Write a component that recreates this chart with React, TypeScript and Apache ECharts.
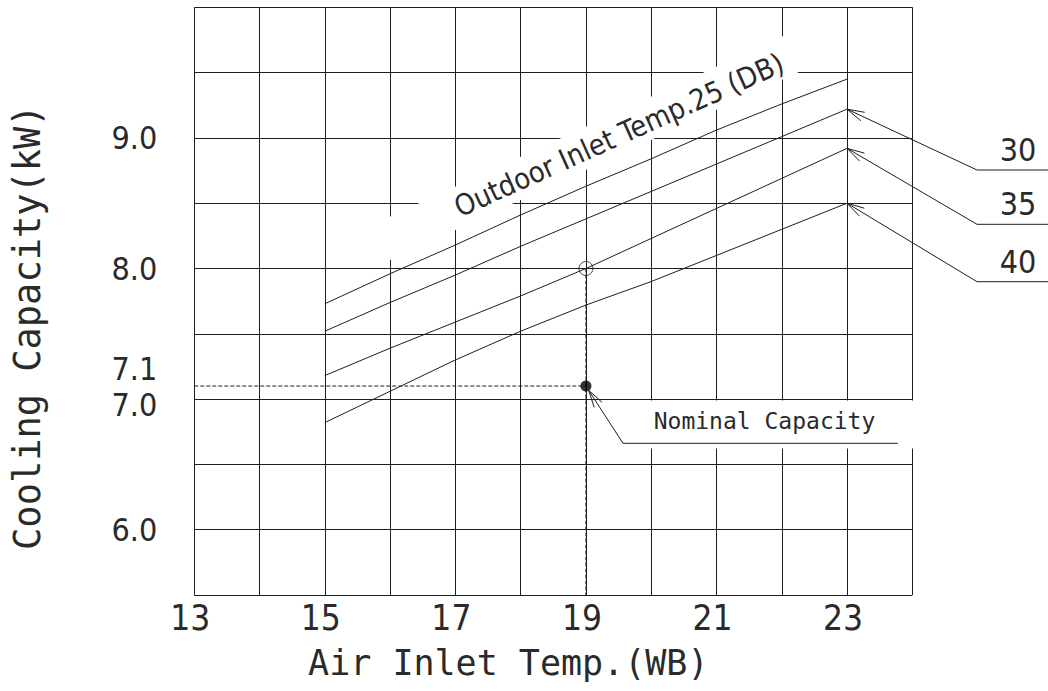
import React, { useEffect, useRef } from "react";
import * as echarts from "echarts";

// ---- data ----
const inletTempWB = [15, 16, 17, 18, 19, 20, 21, 22, 23];
const capacityOutdoor25 = [7.73, 7.96, 8.18, 8.41, 8.63, 8.84, 9.06, 9.26, 9.45];
const capacityOutdoor30 = [7.52, 7.74, 7.95, 8.17, 8.38, 8.59, 8.8, 9.01, 9.22];
const capacityOutdoor35 = [7.18, 7.39, 7.59, 7.79, 8.0, 8.23, 8.46, 8.69, 8.92];
const capacityOutdoor40 = [6.82, 7.06, 7.3, 7.52, 7.72, 7.9, 8.1, 8.3, 8.5];
const outdoorLabels = ["30", "35", "40"];
const ratedPoint = [19, 8.0];
const nominalPoint = [19, 7.1];
const xTickValues = [13, 15, 17, 19, 21, 23];
const yTickValues = [6.0, 7.0, 7.1, 8.0, 9.0];
const xRange = [13, 24];
const yRange = [5.5, 10];

const INK = "#1e1e1e";
const TXT = "#2a2a2a";
const NARROW =
  "'Liberation Sans Narrow', 'DejaVu Sans Condensed', 'Arial Narrow', 'DejaVu Sans', sans-serif";
const MONO = "'DejaVu Sans Mono', 'Liberation Mono', monospace";
const DEG = Math.PI / 180;

function arrowHead(tip: number[], toward: number[], len = 18, spread = 15 * DEG) {
  const a = Math.atan2(toward[1] - tip[1], toward[0] - tip[0]);
  return {
    type: "polyline",
    z: 10,
    silent: true,
    shape: {
      points: [
        [tip[0] + len * Math.cos(a + spread), tip[1] + len * Math.sin(a + spread)],
        [tip[0], tip[1]],
        [tip[0] + len * Math.cos(a - spread), tip[1] + len * Math.sin(a - spread)],
      ],
    },
    style: { stroke: INK, fill: null, lineWidth: 1 },
  };
}

function seg(p1: number[], p2: number[]) {
  return {
    type: "line",
    z: 10,
    silent: true,
    shape: { x1: p1[0], y1: p1[1], x2: p2[0], y2: p2[1] },
    style: { stroke: INK, lineWidth: 1 },
  };
}

export default function App() {
  const ref = useRef<HTMLDivElement>(null);

  useEffect(() => {
    if (!ref.current) return;
    const chart = echarts.init(ref.current, null, { renderer: "svg" });

    const curves = [capacityOutdoor25, capacityOutdoor30, capacityOutdoor35, capacityOutdoor40].map(
      (arr, k) => ({
        type: "line",
        name: ["25", "30", "35", "40"][k],
        data: inletTempWB.map((x, i) => [x, arr[i]]),
        symbol: "none",
        silent: true,
        z: 3,
        lineStyle: { color: INK, width: 1 },
      })
    );

    const dashed = { color: INK, width: 1, type: [4, 2] };
    const guides = [
      [[xRange[0], ratedPoint[1]], ratedPoint],
      [[xRange[0], nominalPoint[1]], nominalPoint],
      [ratedPoint, [ratedPoint[0], yRange[0]]],
    ].map((d) => ({
      type: "line",
      data: d,
      symbol: "none",
      silent: true,
      z: 3,
      lineStyle: dashed,
    }));

    const yLabelFont = { fontFamily: NARROW, fontSize: 32, color: TXT };

    const option: any = {
      animation: false,
      backgroundColor: "#ffffff",
      grid: {
        left: 194.3,
        right: 135.7,
        top: 7.3,
        bottom: 96,
        containLabel: false,
        outerBoundsMode: "none",
      },
      xAxis: {
        type: "value",
        min: xRange[0],
        max: xRange[1],
        interval: 1,
        z: 0,
        axisLine: { show: false },
        axisTick: { show: false },
        splitLine: { show: true, lineStyle: { color: INK, width: 1 } },
        axisLabel: {
          customValues: xTickValues,
          formatter: (v: number) => String(v),
          fontFamily: NARROW,
          fontSize: 35,
          color: TXT,
          margin: 5,
          padding: [0, 8, 0, 0],
        },
        name: "Air Inlet Temp.(WB)",
        nameLocation: "middle",
        nameGap: 68,
        nameTextStyle: {
          fontFamily: MONO,
          fontSize: 35,
          color: TXT,
          verticalAlign: "middle",
          padding: [0, 90, 0, 0],
        },
      },
      yAxis: {
        type: "value",
        min: yRange[0],
        max: yRange[1],
        interval: 0.5,
        z: 0,
        axisLine: { show: false },
        axisTick: { show: false },
        splitLine: { show: true, lineStyle: { color: INK, width: 1 } },
        axisLabel: {
          customValues: yTickValues,
          formatter: (v: number) => {
            const s = v.toFixed(1);
            if (Math.abs(v - 7.1) < 1e-6) return "{up|" + s + "}";
            if (Math.abs(v - 7.0) < 1e-6) return "{down|" + s + "}";
            return s;
          },
          ...yLabelFont,
          margin: 37,
          rich: {
            up: { ...yLabelFont, padding: [0, 0, 34, 0] },
            down: { ...yLabelFont, padding: [12, 0, 0, 0] },
          },
        },
        name: "Cooling Capacity(kW)",
        nameLocation: "middle",
        nameGap: 167,
        nameTextStyle: {
          fontFamily: MONO,
          fontSize: 37,
          color: TXT,
          verticalAlign: "middle",
          padding: [0, 52, 0, 0],
        },
      },
      series: [
        ...curves,
        ...guides,
        {
          type: "scatter",
          data: [ratedPoint],
          symbol: "circle",
          symbolSize: 14,
          silent: true,
          z: 4,
          itemStyle: { color: "rgba(0,0,0,0)", borderColor: INK, borderWidth: 1 },
        },
        {
          type: "scatter",
          data: [nominalPoint],
          symbol: "circle",
          symbolSize: 11,
          silent: true,
          z: 4,
          itemStyle: { color: "#000" },
        },
      ],
    };

    chart.setOption(option);

    const px = (p: number[]) =>
      chart.convertToPixel({ xAxisIndex: 0, yAxisIndex: 0 }, p) as number[];

    const graphics: any[] = [];

    // wipe-out band under the rotated outdoor-temperature text
    const bandAngle = 24.7 * DEG;
    graphics.push({
      type: "rect",
      x: 380,
      y: 243,
      rotation: bandAngle,
      z: 1,
      silent: true,
      shape: { x: 0, y: -19.7, width: 462, height: 39.4 },
      style: { fill: "#ffffff", stroke: null },
    });
    graphics.push({
      type: "text",
      x: 619,
      y: 135,
      rotation: 24.2 * DEG,
      z: 10,
      silent: true,
      style: {
        text: "Outdoor Inlet Temp.25 (DB)",
        fontFamily: NARROW,
        fontSize: 29,
        fill: TXT,
        align: "center",
        verticalAlign: "middle",
      },
    });

    // right-hand outdoor temperature labels with leader arrows
    const ends = [capacityOutdoor30, capacityOutdoor35, capacityOutdoor40].map((arr) =>
      px([inletTempWB[inletTempWB.length - 1], arr[arr.length - 1]])
    );
    const rowY = [170, 224.3, 281.7];
    const rowX0 = 977;
    const rowX1 = 1048;
    ends.forEach((tip, i) => {
      const start = [rowX0, rowY[i]];
      graphics.push(seg(start, tip));
      graphics.push(seg(start, [rowX1, rowY[i]]));
      graphics.push(arrowHead(tip, start));
      graphics.push({
        type: "text",
        x: 1018,
        y: rowY[i] - 20,
        z: 10,
        silent: true,
        style: {
          text: outdoorLabels[i],
          fontFamily: NARROW,
          fontSize: 32,
          fill: TXT,
          align: "center",
          verticalAlign: "middle",
        },
      });
    });

    // nominal capacity annotation
    const dot = px(nominalPoint);
    const nomStart = [623, 443.3];
    const ang = Math.atan2(nomStart[1] - dot[1], nomStart[0] - dot[0]);
    const nomTip = [dot[0] + 5 * Math.cos(ang), dot[1] + 5 * Math.sin(ang)];
    graphics.push({
      type: "rect",
      z: 1,
      silent: true,
      shape: { x: 596, y: 400.5, width: 320, height: 48 },
      style: { fill: "#ffffff", stroke: null },
    });
    graphics.push(seg(nomTip, nomStart));
    graphics.push(seg(nomStart, [897.7, nomStart[1]]));
    graphics.push(arrowHead(nomTip, nomStart));
    graphics.push({
      type: "text",
      x: 764.5,
      y: 421,
      z: 10,
      silent: true,
      style: {
        text: "Nominal Capacity",
        fontFamily: MONO,
        fontSize: 23,
        fill: TXT,
        align: "center",
        verticalAlign: "middle",
      },
    });

    chart.setOption({ graphic: graphics });

    return () => chart.dispose();
  }, []);

  return (
    <div
      ref={ref}
      style={{ position: "fixed", left: 0, top: 0, width: 1048, height: 691, background: "#fff" }}
    />
  );
}
